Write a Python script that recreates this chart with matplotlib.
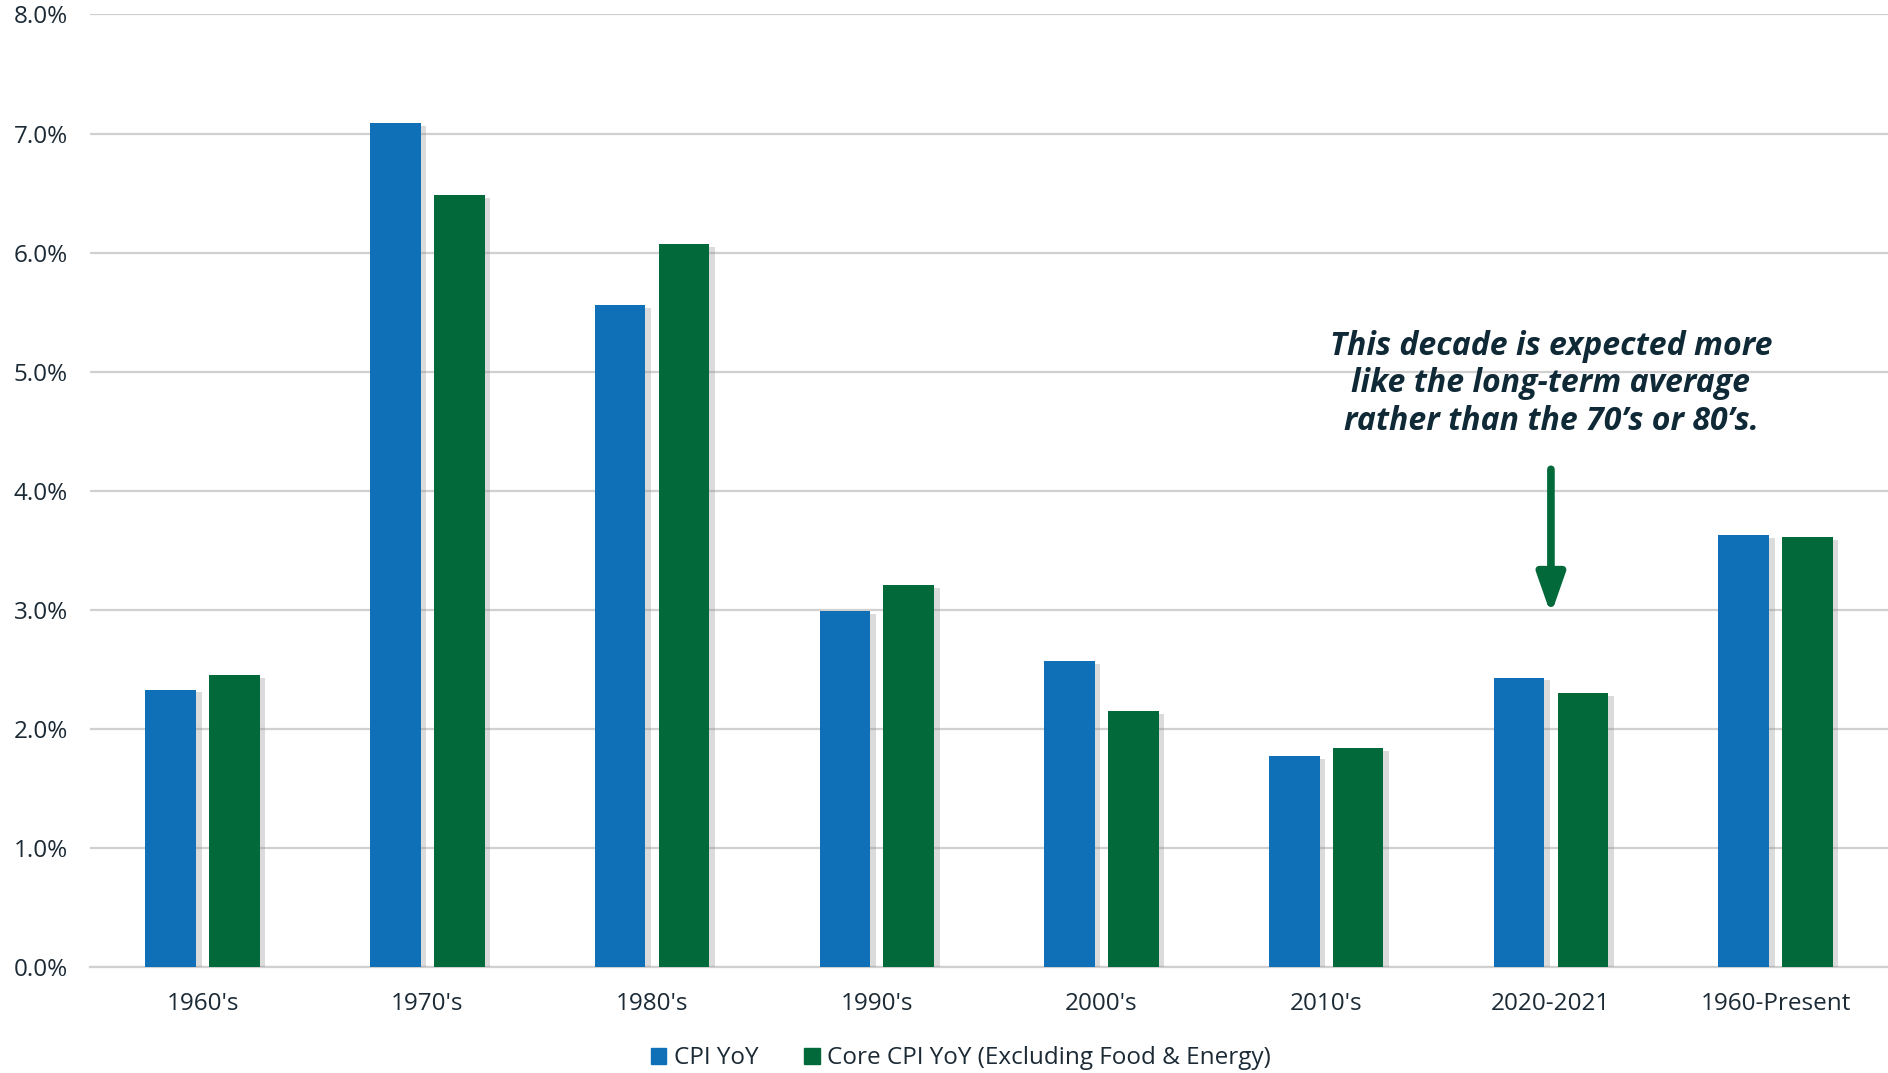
import numpy as np
import matplotlib.pyplot as plt
import matplotlib.patheffects as pe
from matplotlib.patches import Patch

# ===============================================
# Inflation by decade: CPI vs Core CPI
# ===============================================

categories = ["1960's", "1970's", "1980's", "1990's", "2000's", "2010's", "2020-2021", "1960-Present"]
cpi_yoy = [2.33, 7.09, 5.56, 2.99, 2.57, 1.77, 2.43, 3.63]
core_cpi_yoy = [2.45, 6.48, 6.07, 3.21, 2.15, 1.84, 2.30, 3.61]
y_ticks = [0, 1, 2, 3, 4, 5, 6, 7, 8]

note_text = "This decade is expected more\nlike the long-term average\nrather than the 70\u2019s or 80\u2019s."

BLUE = "#0F70B7"
GREEN = "#02693A"
TEXT = "#1B2A35"
GRID = "#D0D0D0"

plt.rcParams["font.family"] = ["Open Sans", "DejaVu Sans"]

fig = plt.figure(figsize=(18.88, 10.73), dpi=100)
ax = fig.add_axes([0.0478, 0.0988, 0.9522, 0.8877])

x = np.arange(len(categories))
width = 0.225
offset = 0.142

shadow = [pe.SimplePatchShadow(offset=(4, -2), shadow_rgbFace="#8a8a8a", alpha=0.3), pe.Normal()]

bars1 = ax.bar(x - offset, cpi_yoy, width, color=BLUE, zorder=3, label="CPI YoY")
bars2 = ax.bar(x + offset, core_cpi_yoy, width, color=GREEN, zorder=3,
               label="Core CPI YoY (Excluding Food & Energy)")
for b in list(bars1) + list(bars2):
    b.set_path_effects(shadow)

ax.set_xlim(-0.5, len(categories) - 0.5)
ax.set_ylim(0, 8)
ax.set_yticks(y_ticks)
ax.set_yticklabels([f"{v:.1f}%" for v in y_ticks])
ax.set_xticks(x)
ax.set_xticklabels(categories)

ax.yaxis.grid(True, color=GRID, linewidth=1.6, zorder=0)
ax.set_axisbelow(True)
for s in ["top", "right", "left"]:
    ax.spines[s].set_visible(False)
ax.spines["bottom"].set_color(GRID)
ax.spines["bottom"].set_linewidth(1.6)
ax.tick_params(axis="both", length=0, labelsize=17.5, colors=TEXT)
ax.tick_params(axis="x", pad=18)
ax.tick_params(axis="y", pad=16)

# Annotation
ax.text(6.0, 4.90, note_text, ha="center", va="center", fontsize=23,
        fontweight="bold", fontstyle="italic", color="#0F2A36", linespacing=1.18)
ax.annotate("", xy=(6.0, 2.96), xytext=(6.0, 4.18),
            arrowprops=dict(arrowstyle="-|>,head_length=1.2,head_width=0.42",
                            mutation_scale=20, color=GREEN, lw=5.5,
                            shrinkA=0, shrinkB=0))

# Legend
handles = [Patch(color=BLUE, label="CPI YoY"),
           Patch(color=GREEN, label="Core CPI YoY (Excluding Food & Energy)")]
leg = fig.legend(handles=handles, loc="lower center", bbox_to_anchor=(0.509, -0.018),
                 ncol=2, frameon=False, fontsize=17.5, handlelength=0.62, handleheight=0.62,
                 handletextpad=0.3, columnspacing=1.9)
for t in leg.get_texts():
    t.set_color(TEXT)

fig.savefig("out.png", dpi=100)
plt.close(fig)
